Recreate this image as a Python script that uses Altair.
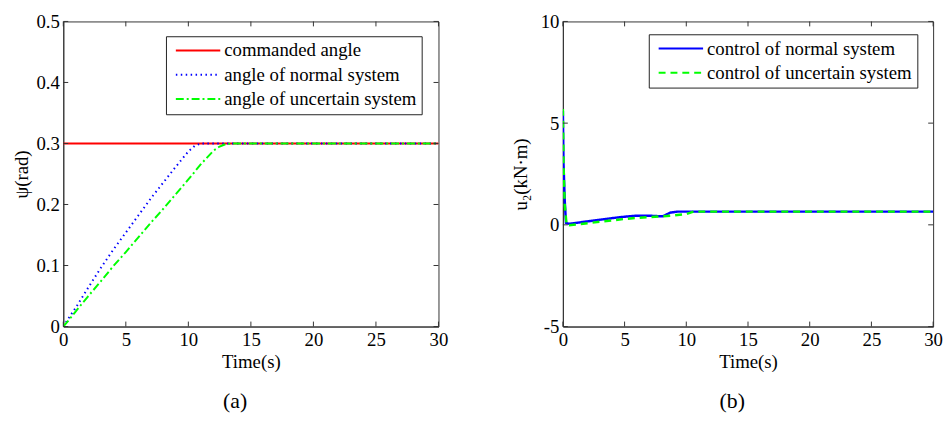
import altair as alt
import pandas as pd

# ---------------- data ----------------
# panel (a): yaw angle psi (rad)
t_cmd = [0, 30]
psi_cmd = [0.3, 0.3]
t_norm = [0, 0.5, 1, 2, 3, 4, 5, 6, 7, 8, 9, 10, 10.5, 11, 30]
psi_norm = [0, 0.016, 0.031, 0.064, 0.096, 0.126, 0.154, 0.182, 0.21, 0.236, 0.262, 0.287, 0.296, 0.3, 0.3]
t_unc = [0, 0.5, 1, 2, 3, 4, 5, 6, 7, 8, 9, 10, 11, 12, 12.5, 13, 13.5, 30]
psi_unc = [0, 0.012, 0.025, 0.05, 0.074, 0.099, 0.122, 0.146, 0.17, 0.193, 0.217, 0.241, 0.266, 0.288, 0.295, 0.299, 0.3, 0.3]

# panel (b): control u2 (kN*m)
t_u_norm = [0, 0.05, 0.15, 0.25, 0.5, 2, 4, 5, 6, 7, 7.6, 8.1, 8.7, 9.3, 10, 30]
u_norm = [5.6, 3.0, 1.2, 0.1, 0.05, 0.17, 0.33, 0.4, 0.45, 0.45, 0.43, 0.42, 0.6, 0.65, 0.65, 0.65]
t_u_unc = [0, 0.05, 0.15, 0.3, 0.5, 2, 4, 5, 6, 7, 8, 9, 10, 10.6, 30]
u_unc = [5.7, 3.0, 1.0, 0.0, -0.02, 0.08, 0.22, 0.29, 0.34, 0.38, 0.42, 0.46, 0.53, 0.65, 0.65]

names_a = ["commanded angle", "angle of normal system", "angle of uncertain system"]
names_b = ["control of normal system", "control of uncertain system"]

x_ticks = [0, 5, 10, 15, 20, 25, 30]
y_ticks_a = [0, 0.1, 0.2, 0.3, 0.4, 0.5]
y_ticks_b = [-5, 0, 5, 10]

# ---------------- styling ----------------
FONT = "Liberation Serif"
FS = 19
AX = "#333333"
WA, HA = 380, 309
WB, HB = 375, 309
TICK = 5
LABEL_EXPR = "datum.value + ''"


def frame(ts, vs, name):
    return pd.DataFrame({"t": ts, "val": vs, "series": name})


df_a = pd.concat([
    frame(t_cmd, psi_cmd, names_a[0]),
    frame(t_norm, psi_norm, names_a[1]),
    frame(t_unc, psi_unc, names_a[2]),
])
df_b = pd.concat([
    frame(t_u_norm, u_norm, names_b[0]),
    frame(t_u_unc, u_unc, names_b[1]),
])


def panel(df, names, colors, dashes, widths, yticks, ydom, ytitle, ytpad, W, H, letter, lx, ly):
    X = alt.X("t:Q", scale=alt.Scale(domain=[0, 30], nice=False, zero=False),
              axis=alt.Axis(values=x_ticks, title="Time(s)", labelExpr=LABEL_EXPR,
                            labelFlush=False))
    Y = alt.Y("val:Q", scale=alt.Scale(domain=ydom, nice=False, zero=False),
              axis=alt.Axis(values=yticks, title=ytitle, titlePadding=ytpad,
                            labelExpr=LABEL_EXPR, labelFlush=False))
    legend = alt.Legend(
        title=None, orient="none", legendX=lx, legendY=ly,
        symbolType="M-3,0H3", symbolSize=225, symbolStrokeWidth=2,
        symbolOffset=18, labelOffset=17,
        labelFont=FONT, labelFontSize=FS, labelColor="black", labelLimit=400,
        strokeColor="#222", fillColor="white", padding=5, rowPadding=4.5,
    )
    C = alt.Color("series:N", scale=alt.Scale(domain=names, range=colors), legend=legend)
    D = alt.StrokeDash("series:N", scale=alt.Scale(domain=names, range=dashes), legend=legend)
    layers = []
    for i, n in enumerate(names):
        layers.append(
            alt.Chart(df).transform_filter(alt.datum.series == n)
            .mark_line(strokeWidth=widths[i], clip=True)
            .encode(x=X, y=Y, color=C, strokeDash=D)
        )
    xt = pd.DataFrame({"t": x_ticks})
    yt = pd.DataFrame({"val": yticks})
    layers += [
        alt.Chart(xt).mark_rule(color=AX).encode(x=X, y=alt.value(H), y2=alt.value(H - TICK)),
        alt.Chart(xt).mark_rule(color=AX).encode(x=X, y=alt.value(0), y2=alt.value(TICK)),
        alt.Chart(yt).mark_rule(color=AX).encode(y=Y, x=alt.value(0), x2=alt.value(TICK)),
        alt.Chart(yt).mark_rule(color=AX).encode(y=Y, x=alt.value(W), x2=alt.value(W - TICK)),
    ]
    return alt.layer(*layers).properties(
        width=W, height=H,
        title=alt.TitleParams(letter, orient="bottom", font=FONT, fontSize=22,
                              fontWeight="normal", color="black", offset=20, dx=-16),
    )


left = panel(df_a, names_a, ["#ff0000", "#0000ff", "#00ff00"],
             [[1, 0], [1.5, 3.5], [8, 3, 2, 3]], [2, 2, 2],
             y_ticks_a, [0, 0.5], "ψ(rad)", 4, WA, HA, "(a)", 104, 15)
right = panel(df_b, names_b, ["#0000ff", "#00ff00"],
              [[1, 0], [7, 5]], [2.5, 2.5],
              y_ticks_b, [-5, 10], "u₂(kN·m)", 10, WB, HB, "(b)", 87, 13)

chart = alt.hconcat(left, right, spacing=63).resolve_scale(
    color="independent", strokeDash="independent"
).resolve_legend(color="independent", strokeDash="independent").configure_axis(
    labelFont=FONT, labelFontSize=FS, labelColor="black", labelPadding=4,
    titleFont=FONT, titleFontSize=FS, titleFontWeight="normal", titleColor="black",
    titlePadding=4, domainColor=AX, ticks=False, grid=False,
).configure_view(stroke=AX, strokeWidth=1).properties(
    padding={"left": 4, "top": 1, "right": 0, "bottom": 0},
    background="white",
)

chart.save("out.html", embed_options={"renderer": "svg", "actions": False})
